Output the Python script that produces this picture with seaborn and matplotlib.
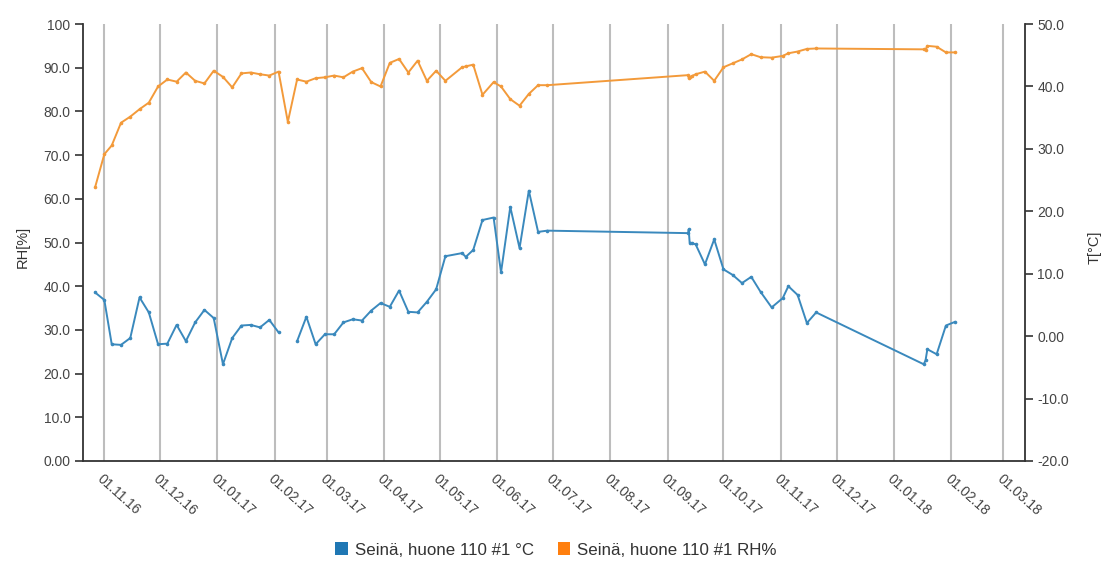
import numpy as np
import pandas as pd
import matplotlib
matplotlib.use("Agg")
import matplotlib.pyplot as plt
import matplotlib.dates as mdates
from matplotlib.patches import Patch
import seaborn as sns

# ---- measurement data -------------------------------------------------------
timestamps = [
    "2016-10-27", "2016-11-01", "2016-11-05", "2016-11-10", "2016-11-15",
    "2016-11-20", "2016-11-25", "2016-11-30", "2016-12-05", "2016-12-10",
    "2016-12-15", "2016-12-20", "2016-12-25", "2016-12-30", "2017-01-04",
    "2017-01-09", "2017-01-14", "2017-01-19", "2017-01-24", "2017-01-29",
    "2017-02-03", "2017-02-08", "2017-02-13", "2017-02-18", "2017-02-23",
    "2017-02-28", "2017-03-05", "2017-03-10", "2017-03-15", "2017-03-20",
    "2017-03-25", "2017-03-30", "2017-04-04", "2017-04-09", "2017-04-14",
    "2017-04-19", "2017-04-24", "2017-04-29", "2017-05-04", "2017-05-13",
    "2017-05-15", "2017-05-19", "2017-05-24", "2017-05-30", "2017-06-03",
    "2017-06-08", "2017-06-13", "2017-06-18", "2017-06-23", "2017-06-28",
    "2017-09-12 00:00", "2017-09-12 06:00", "2017-09-12 18:00", "2017-09-14",
    "2017-09-16", "2017-09-21", "2017-09-26", "2017-10-01", "2017-10-06",
    "2017-10-11", "2017-10-16", "2017-10-21", "2017-10-27", "2017-11-02",
    "2017-11-05", "2017-11-10", "2017-11-15", "2017-11-20", "2018-01-17",
    "2018-01-18", "2018-01-19", "2018-01-24", "2018-01-29", "2018-02-03",
]

rh_percent = [
    62.6, 70.2, 72.2, 77.4, 78.8, 80.5, 82.0, 85.7, 87.3, 86.8,
    88.9, 87.0, 86.4, 89.3, 87.9, 85.5, 88.7, 88.9, 88.5, 88.2,
    89.1, 77.6, 87.3, 86.8, 87.6, 87.8, 88.2, 87.8, 89.1, 89.9,
    86.7, 85.7, 91.1, 92.0, 88.9, 91.6, 87.0, 89.3, 87.0, 90.1,
    90.3, 90.7, 83.8, 86.7, 85.7, 82.8, 81.3, 84.0, 86.0, 86.0,
    88.3, 87.6, 87.8, 88.1, 88.5, 89.1, 87.0, 90.1, 91.0, 91.9,
    93.1, 92.4, 92.3, 92.7, 93.3, 93.7, 94.3, 94.4, 94.2, 94.1,
    95.0, 94.8, 93.5, 93.5,
]

temp_c = [
    7.0, 5.8, -1.3, -1.4, -0.3, 6.2, 3.8, -1.3, -1.2, 1.8,
    -0.8, 2.2, 4.2, 2.9, -4.5, -0.3, 1.7, 1.8, 1.4, 2.6,
    0.6, np.nan, -0.8, 3.1, -1.3, 0.3, 0.3, 2.2, 2.7, 2.5,
    4.1, 5.3, 4.7, 7.3, 3.9, 3.8, 5.5, 7.5, 12.8, 13.3,
    12.7, 13.8, 18.6, 19.0, 10.2, 20.7, 14.1, 23.3, 16.7, 16.9,
    16.5, 17.1, 15.0, 14.9, 14.7, 11.5, 15.5, 10.7, 9.8, 8.5,
    9.5, 7.1, 4.6, 6.1, 8.0, 6.6, 2.1, 3.8, -4.5, -3.9,
    -2.1, -2.9, 1.7, 2.3,
]

series_names = ["Seinä, huone 110 #1 °C", "Seinä, huone 110 #1 RH%"]

rh_ticks = [0, 10, 20, 30, 40, 50, 60, 70, 80, 90, 100]
rh_tick_labels = ["0.00", "10.0", "20.0", "30.0", "40.0", "50.0",
                  "60.0", "70.0", "80.0", "90.0", "100"]
temp_ticks = [-20, -10, 0, 10, 20, 30, 40, 50]
temp_tick_labels = ["-20.0", "-10.0", "0.00", "10.0", "20.0", "30.0",
                    "40.0", "50.0"]
month_ticks = pd.date_range("2016-11-01", "2018-03-01", freq="MS")
x_range = ("2016-10-20 12:00", "2018-03-12 16:00")

# ---- styling -----------------------------------------------------------------
sns.set_style("white")
plt.rcParams["font.family"] = ["Liberation Sans", "DejaVu Sans"]

temp_color = "#3a89bd"
rh_color = "#f39a3a"
legend_colors = ["#1f77b4", "#ff7f0e"]
axis_color = "#333333"
text_color = "#444444"

df = pd.DataFrame({
    "time": pd.to_datetime(timestamps, format="mixed"),
    "rh": rh_percent,
    "temp": temp_c,
})
# a missing temperature reading splits the line into separate runs
df["segment"] = df["temp"].isna().cumsum()
temp_df = df.dropna(subset=["temp"])

fig = plt.figure(figsize=(11.06, 5.61), dpi=100)
ax = fig.add_axes([83 / 1106, 1 - 461 / 561, 942 / 1106, 437 / 561])
ax2 = ax.twinx()

sns.lineplot(data=df, x="time", y="rh", ax=ax, color=rh_color, lw=1.4,
             marker="o", markersize=2.6, markeredgewidth=0, estimator=None)
sns.lineplot(data=temp_df, x="time", y="temp", units="segment",
             estimator=None, ax=ax2, color=temp_color, lw=1.4,
             marker="o", markersize=2.6, markeredgewidth=0)

ax.set_xlim(pd.to_datetime(x_range[0]), pd.to_datetime(x_range[1]))
ax.set_ylim(0, 100)
ax2.set_ylim(-20, 50)

ax.set_xticks(month_ticks)
ax.xaxis.set_major_formatter(mdates.DateFormatter("%d.%m.%y"))
ax.set_yticks(rh_ticks)
ax.set_yticklabels(rh_tick_labels)
ax2.set_yticks(temp_ticks)
ax2.set_yticklabels(temp_tick_labels)

ax.grid(axis="x", color="#bdbdbd", lw=1.5)
ax.grid(axis="y", visible=False)
ax2.grid(False)
ax.set_axisbelow(True)

for side in ["top", "right"]:
    ax.spines[side].set_visible(False)
for side in ["top", "left", "bottom"]:
    ax2.spines[side].set_visible(False)
for sp in [ax.spines["left"], ax.spines["bottom"], ax2.spines["right"]]:
    sp.set_color(axis_color)
    sp.set_linewidth(1.3)

tick_kw = dict(direction="out", length=6, width=1.2, color=axis_color,
               labelcolor=text_color, labelsize=10)
ax.tick_params(axis="both", pad=3, **tick_kw)
ax2.tick_params(axis="y", pad=3, **tick_kw)
ax.tick_params(axis="x", pad=2)

for lbl in ax.get_xticklabels():
    lbl.set_rotation(-42)
    lbl.set_ha("left")
    lbl.set_va("top")
    lbl.set_rotation_mode("anchor")

ax.set_xlabel("")
ax.set_ylabel("RH[%]", color=axis_color, fontsize=10.5)
ax2.set_ylabel("T[°C]", color=axis_color, fontsize=10.5)
ax.yaxis.set_label_coords(-0.057, 0.49)
ax2.yaxis.set_label_coords(1.067, 0.49)

handles = [Patch(facecolor=c, edgecolor="none", label=n)
           for c, n in zip(legend_colors, series_names)]
fig.legend(handles=handles, loc="center", bbox_to_anchor=(556 / 1106, 1 - 550 / 561),
           ncol=2, frameon=False, fontsize=12.2, handlelength=0.75,
           handleheight=0.75, handletextpad=0.4, columnspacing=1.4,
           labelcolor="#333333")

fig.savefig("out.png", dpi=100)
